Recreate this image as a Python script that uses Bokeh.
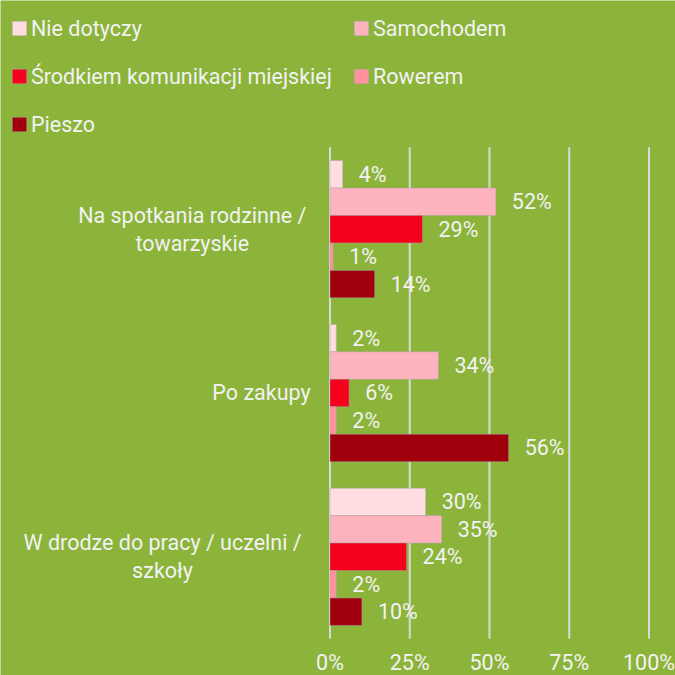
from bokeh.plotting import figure
from bokeh.models import Legend, LegendItem, ColumnDataSource
from bokeh.embed import file_html
from bokeh.resources import INLINE
from bokeh.core.properties import value

categories = ["Na spotkania rodzinne /\ntowarzyskie", "Po zakupy", "W drodze do pracy / uczelni /\nszkoły"]
series_names = ["Nie dotyczy", "Samochodem", "Środkiem komunikacji miejskiej", "Rowerem", "Pieszo"]
nie_dotyczy = [4, 2, 30]
samochodem = [52, 34, 35]
srodkiem = [29, 6, 24]
rowerem = [1, 2, 2]
pieszo = [14, 56, 10]
series_values = [nie_dotyczy, samochodem, srodkiem, rowerem, pieszo]
colors = ["#FFDDE1", "#FFB3BE", "#F5001D", "#FF929C", "#A0000E"]
x_ticks = [0, 25, 50, 75, 100]
tick_labels = ["0%", "25%", "50%", "75%", "100%"]

FONT = "Roboto"
FS = 21.5
TXT = "#F2F2F2"
BG = "#8CB43B"

n = len(categories)
cat_y = [n - 0.5 - i for i in range(n)]

p = figure(width=675, height=675, output_backend="svg", toolbar_location=None,
           x_range=(-103.29, 108.31), y_range=(-0.2247, 3.8962),
           x_axis_location=None, y_axis_location=None,
           min_border=0)
p.background_fill_color = BG
p.border_fill_color = BG
p.outline_line_color = None
p.grid.visible = False

# vertical grid lines across the plotting area
p.segment(x0=x_ticks, x1=x_ticks, y0=[0] * len(x_ticks), y1=[n] * len(x_ticks),
          line_color="#D9D9D9", line_width=2)

# x tick labels
p.text(x=x_ticks, y=[0] * len(x_ticks), text=tick_labels, y_offset=24,
       text_align="center", text_baseline="middle", text_color=TXT,
       text_font=value(FONT), text_font_size=f"{FS}px")

# category labels (block right edge ~22px left of axis, lines centred)
char_w = 0.46 * FS
offs = [-24 - max(len(s) for s in c.split("\n")) * char_w / 2 for c in categories]
p.text(x=[0] * n, y=cat_y, text=categories, x_offset=offs,
       text_align="center", text_baseline="middle", text_color=TXT,
       text_font=value(FONT), text_font_size=f"{FS}px", text_line_height=1.12)

bar_h = 0.1676
renderers = []
for i, (name, vals, col) in enumerate(zip(series_names, series_values, colors)):
    off = (2 - i) * bar_h
    src = ColumnDataSource(dict(y=[c + off for c in cat_y], v=vals, lbl=[f"{v}%" for v in vals]))
    r = p.hbar(y="y", right="v", left=0, height=bar_h, source=src,
               fill_color=col, line_color="#A6A6A6", line_alpha=0.45, line_width=1)
    renderers.append(r)
    p.text(x="v", y="y", text="lbl", source=src, x_offset=16,
           text_align="left", text_baseline="middle", text_color=TXT,
           text_font=value(FONT), text_font_size=f"{FS}px")

leg_kw = dict(label_text_color=TXT, label_text_font=FONT, label_text_font_size=f"{FS}px",
              glyph_width=18, glyph_height=18, label_height=25, spacing=23,
              label_standoff=3, padding=0, margin=0, border_line_color=None,
              background_fill_alpha=0, orientation="vertical")
leg1 = Legend(items=[LegendItem(label=series_names[k], renderers=[renderers[k]]) for k in (0, 2, 4)],
              location=(10, 538.5), **leg_kw)
leg2 = Legend(items=[LegendItem(label=series_names[k], renderers=[renderers[k]]) for k in (1, 3)],
              location=(352, 586.5), **leg_kw)
p.add_layout(leg1, "center")
p.add_layout(leg2, "center")

open("out.html", "w").write(file_html(p, INLINE))
